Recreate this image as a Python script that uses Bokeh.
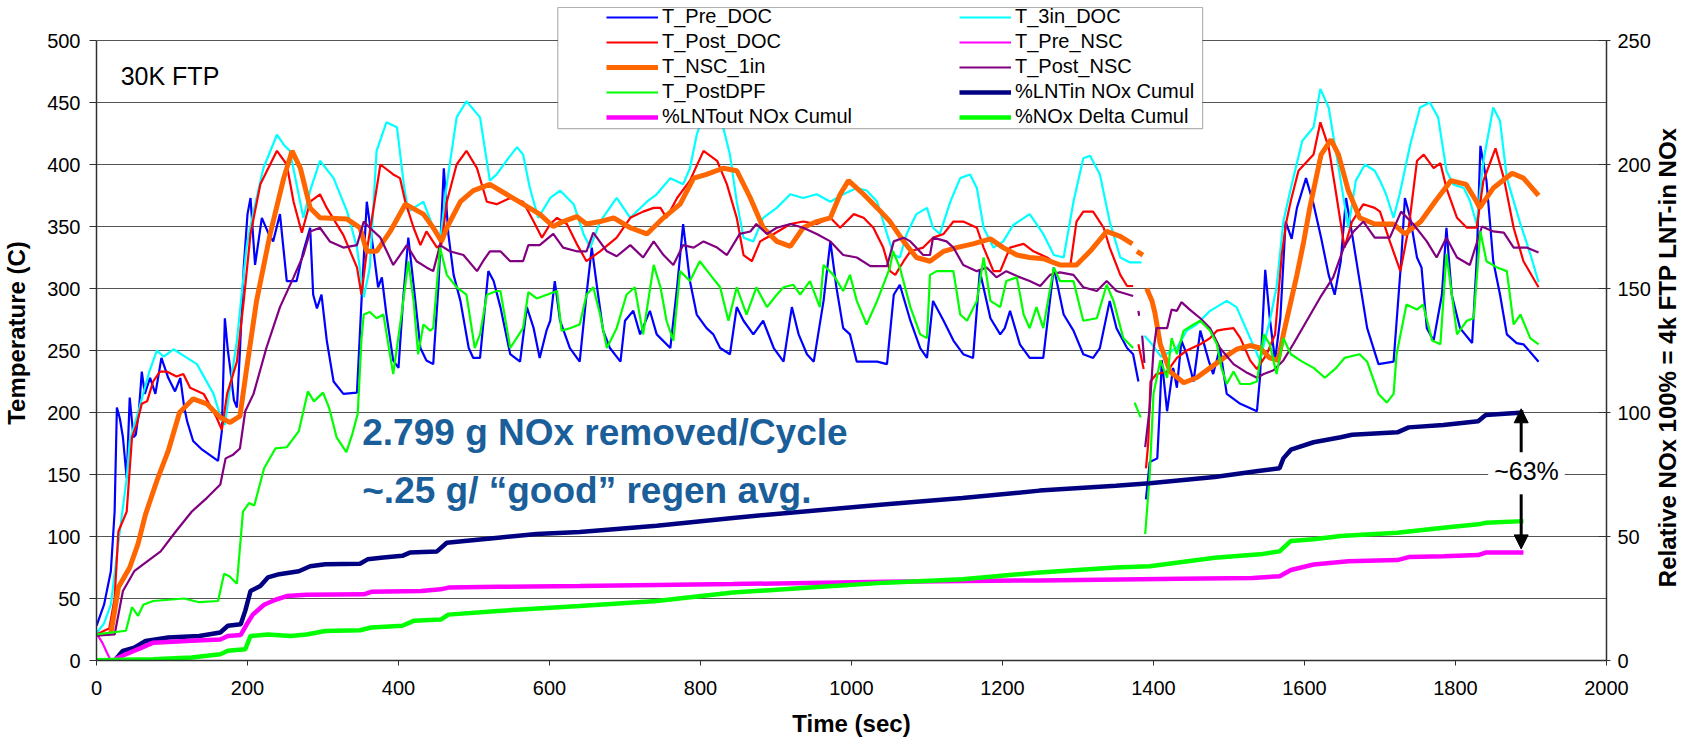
import numpy as np
from bokeh.plotting import figure
from bokeh.models import (Range1d, LinearAxis, FixedTicker, Legend, LegendItem,
                          BoxAnnotation, Label, Arrow, NormalHead)
from bokeh.embed import file_html
from bokeh.resources import INLINE

nan = float("nan")

# ---------------- data (time sec, value) ----------------
t_pre_doc = [(0,28),(10,45),(19,72),(24,120),(27,204),(31,195),(35,180),(40,147),(44,212),(49,180),(52,182),(56,200),(60,233),(64,215),(71,228),(78,215),(86,244),(95,228),(104,217),(111,228),(116,205),(120,193),(128,177),(140,170),(161,161),(166,185),(170,276),(174,250),(177,236),(182,210),(186,204),(190,250),(195,317),(200,360),(204,373),(210,319),(215,340),(219,357),(228,344),(234,338),(243,360),(248,330),(252,306),(265,306),(274,330),(283,349),(287,295),(292,284),(298,295),(305,258),(314,225),(327,215),(345,216),(351,290),(358,370),(367,330),(373,301),(378,309),(384,279),(393,242),(400,236),(406,290),(413,341),(420,303),(429,252),(437,242),(446,239),(453,303),(460,397),(466,344),(473,311),(482,290),(493,252),(499,244),(508,244),(519,314),(526,306),(535,285),(548,247),(561,241),(570,285),(579,268),(587,244),(596,266),(601,274),(607,306),(614,274),(627,252),(640,241),(649,295),(656,333),(663,301),(671,266),(680,252),(694,241),(700,274),(711,282),(720,263),(733,282),(742,263),(760,252),(769,301),(777,352),(786,306),(795,279),(808,268),(817,263),(826,252),(839,247),(848,285),(857,274),(870,263),(883,274),(897,252),(910,241),(921,285),(930,263),(941,247),(950,241),(963,290),(972,338),(980,301),(989,268),(998,263),(1007,241),(1020,241),(1034,241),(1047,239),(1056,295),(1064,303),(1078,274),(1091,252),(1100,244),(1108,290),(1122,274),(1135,258),(1148,247),(1161,244),(1170,314),(1184,276),(1197,263),(1203,268),(1210,282),(1223,255),(1236,244),(1254,244),(1268,317),(1281,279),(1294,266),(1307,247),(1320,244),(1329,252),(1342,290),(1351,268),(1365,252),(1373,247),(1380,225),(1385,nan),(1390,130),(1395,160),(1405,163),(1408,200),(1411,242),(1418,201),(1426,236),(1431,220),(1437,258),(1444,247),(1453,225),(1462,266),(1473,242),(1479,231),(1488,252),(1497,215),(1515,207),(1537,201),(1541,228),(1548,315),(1554,276),(1561,242),(1568,276),(1575,354),(1583,340),(1590,365),(1602,389),(1612,368),(1622,341),(1632,311),(1640,295),(1648,322),(1655,373),(1663,344),(1673,306),(1683,268),(1698,239),(1718,241),(1728,322),(1733,373),(1740,357),(1749,325),(1755,317),(1762,268),(1771,258),(1782,295),(1788,349),(1795,295),(1806,268),(1822,256),(1828,322),(1833,415),(1841,387),(1850,322),(1859,295),(1868,263),(1881,256),(1890,255),(1910,241)]

t_3in_doc = [(0,22),(10,30),(19,45),(30,100),(40,147),(44,177),(55,200),(70,233),(80,250),(89,245),(102,251),(120,244),(133,239),(155,215),(166,193),(170,190),(178,225),(186,258),(199,335),(208,362),(221,397),(239,424),(248,416),(256,411),(265,384),(274,357),(283,379),(296,403),(314,389),(332,362),(345,333),(354,293),(362,317),(371,411),(384,434),(398,430),(407,384),(413,362),(433,370),(446,349),(455,338),(464,384),(477,438),(490,451),(508,438),(521,387),(530,392),(543,403),(557,414),(565,408),(574,381),(585,357),(601,373),(614,379),(632,368),(645,344),(654,333),(667,354),(689,373),(707,357),(729,370),(742,376),(760,389),(777,384),(786,397),(795,424),(804,440),(813,455),(822,445),(830,430),(839,408),(848,370),(857,341),(870,338),(883,357),(901,365),(919,376),(936,373),(954,376),(972,370),(989,376),(1007,381),(1020,379),(1034,370),(1047,344),(1056,327),(1064,325),(1073,344),(1086,360),(1100,365),(1108,349),(1117,344),(1131,370),(1144,389),(1157,392),(1166,381),(1175,349),(1188,333),(1201,338),(1214,351),(1236,360),(1254,344),(1268,327),(1281,325),(1294,370),(1307,405),(1316,407),(1329,392),(1342,354),(1356,325),(1369,321),(1384,321),(1386,nan),(1388,262),(1398,255),(1410,245),(1431,252),(1444,266),(1457,271),(1475,282),(1497,290),(1510,285),(1528,260),(1541,242),(1554,274),(1563,301),(1572,354),(1582,381),(1597,419),(1612,430),(1621,461),(1632,446),(1648,387),(1658,349),(1668,387),(1680,400),(1693,395),(1700,387),(1708,376),(1718,357),(1726,376),(1740,416),(1753,446),(1766,450),(1777,438),(1788,395),(1797,384),(1811,381),(1819,371),(1828,352),(1837,403),(1850,446),(1859,435),(1868,389),(1886,352),(1899,328),(1910,305)]

t_post_doc = [(0,21),(17,26),(24,50),(29,104),(40,120),(47,180),(53,190),(60,207),(67,209),(75,225),(84,233),(93,233),(106,229),(115,231),(124,220),(142,215),(159,196),(166,186),(173,215),(186,241),(195,290),(204,344),(217,384),(239,411),(252,400),(261,370),(272,345),(283,370),(296,376),(305,365),(327,343),(345,317),(351,295),(358,330),(376,400),(393,392),(402,389),(409,370),(420,349),(429,335),(437,346),(451,333),(457,336),(464,370),(477,400),(490,411),(504,397),(517,370),(530,368),(548,373),(565,370),(579,354),(590,341),(601,352),(610,357),(623,352),(636,336),(649,322),(667,330),(689,341),(707,357),(724,362),(738,365),(747,365),(755,357),(769,373),(786,387),(804,411),(822,403),(835,384),(848,357),(857,327),(868,322),(879,338),(897,344),(919,352),(936,354),(954,352),(972,357),(985,349),(1003,360),(1016,357),(1029,349),(1042,333),(1051,314),(1058,311),(1069,322),(1078,330),(1095,333),(1108,341),(1122,344),(1135,354),(1148,354),(1166,349),(1175,333),(1188,314),(1197,314),(1210,333),(1228,336),(1241,330),(1259,325),(1272,319),(1290,319),(1298,354),(1307,362),(1320,362),(1334,349),(1342,333),(1356,311),(1365,302),(1373,302),(1376,nan),(1380,255),(1387,235),(1388,nan),(1390,155),(1393,175),(1396,225),(1404,231),(1418,233),(1431,244),(1444,250),(1462,255),(1475,260),(1484,266),(1493,267),(1506,268),(1515,260),(1528,242),(1537,235),(1550,247),(1561,263),(1570,328),(1576,354),(1582,371),(1592,395),(1612,408),(1621,434),(1632,414),(1642,376),(1653,333),(1663,354),(1678,368),(1693,365),(1700,362),(1713,338),(1727,314),(1738,349),(1749,403),(1758,408),(1771,397),(1780,401),(1788,381),(1802,357),(1815,349),(1828,349),(1837,387),(1853,413),(1864,389),(1877,349),(1890,322),(1910,301)]

t_pre_nsc = [(0,22),(8,14),(14,6),(19,0)]

t_nsc_1in = [(19,22),(24,40),(29,59),(44,75),(55,94),(65,118),(80,145),(95,169),(110,200),(128,211),(146,207),(164,196),(177,192),(190,197),(199,236),(212,290),(230,344),(248,389),(259,411),(270,397),(283,365),(296,357),(332,356),(349,349),(358,330),(371,330),(389,346),(409,368),(433,360),(446,349),(457,338),(464,349),(482,370),(499,379),(521,384),(543,376),(565,368),(587,360),(605,350),(618,354),(636,358),(649,352),(667,354),(685,357),(707,349),(729,344),(751,357),(773,368),(791,389),(808,392),(830,397),(848,395),(866,373),(883,349),(901,338),(919,334),(936,349),(954,354),(972,357),(985,376),(996,387),(1016,376),(1034,365),(1051,354),(1069,338),(1086,325),(1104,322),(1122,330),(1139,333),(1161,336),(1184,340),(1201,333),(1219,327),(1236,325),(1254,324),(1276,319),(1298,319),(1316,330),(1338,346),(1356,342),(1372,336),(1375,nan),(1378,330),(1386,327),(1388,nan),(1391,300),(1398,290),(1402,280),(1409,255),(1422,233),(1440,224),(1457,228),(1475,236),(1493,244),(1510,251),(1528,254),(1541,252),(1554,244),(1565,242),(1572,263),(1581,287),(1590,311),(1599,338),(1607,365),(1622,408),(1635,420),(1645,408),(1658,379),(1673,357),(1693,352),(1718,352),(1733,344),(1754,354),(1774,371),(1794,387),(1814,384),(1827,371),(1832,365),(1850,381),(1875,393),(1890,389),(1910,375)]

t_post_nsc = [(0,20),(24,21),(35,56),(50,72),(65,79),(85,88),(105,104),(126,120),(146,131),(164,142),(171,163),(181,166),(190,171),(197,201),(208,215),(225,252),(243,285),(261,309),(274,327),(283,346),(296,349),(309,338),(327,333),(345,335),(354,354),(362,349),(376,341),(393,319),(402,327),(411,335),(424,322),(437,317),(446,314),(455,335),(468,330),(486,327),(504,314),(512,322),(521,330),(535,330),(548,322),(565,322),(572,335),(587,335),(605,344),(618,333),(636,330),(649,330),(658,345),(676,330),(689,326),(707,335),(724,325),(738,338),(751,327),(764,319),(777,335),(791,333),(804,338),(822,333),(835,327),(852,344),(866,346),(874,352),(888,344),(901,349),(919,352),(936,349),(954,344),(972,338),(989,327),(1007,325),(1025,318),(1047,318),(1056,338),(1069,341),(1078,338),(1095,327),(1104,327),(1108,341),(1126,338),(1135,333),(1148,319),(1166,314),(1179,317),(1192,309),(1205,314),(1219,310),(1236,306),(1250,302),(1263,311),(1276,313),(1294,311),(1307,301),(1325,298),(1338,306),(1351,298),(1373,294),(1376,nan),(1380,282),(1381,278),(1382,nan),(1385,262),(1388,240),(1389,nan),(1389,172),(1395,204),(1400,250),(1404,268),(1418,268),(1424,283),(1431,282),(1437,289),(1448,283),(1462,276),(1475,268),(1488,252),(1506,239),(1524,232),(1537,228),(1546,231),(1559,234),(1572,242),(1585,255),(1603,274),(1621,293),(1638,309),(1652,333),(1665,346),(1678,354),(1693,341),(1713,341),(1728,362),(1744,352),(1762,338),(1775,325),(1788,341),(1802,325),(1819,319),(1835,350),(1850,346),(1864,345),(1877,333),(1894,333),(1910,329)]

t_post_dpf = [(0,21),(39,24),(47,43),(55,36),(62,45),(75,48),(116,50),(136,47),(161,48),(169,70),(176,68),(186,62),(194,120),(202,127),(209,125),(222,155),(237,171),(252,172),(268,185),(280,217),(288,209),(300,216),(308,204),(318,180),(331,168),(339,183),(346,199),(351,260),(354,279),(362,281),(371,276),(380,279),(393,231),(404,279),(413,322),(420,290),(426,247),(433,271),(442,266),(446,268),(455,333),(464,311),(477,301),(490,295),(501,252),(508,263),(517,295),(530,298),(535,298),(548,252),(565,268),(572,297),(583,292),(610,298),(616,266),(627,268),(640,271),(649,295),(658,301),(667,279),(676,252),(689,268),(702,295),(713,301),(724,263),(738,319),(747,301),(755,274),(764,258),(773,314),(786,306),(799,322),(813,311),(826,301),(837,274),(848,301),(861,279),(874,301),(888,285),(901,295),(910,301),(923,303),(932,295),(945,306),(958,285),(963,319),(976,311),(989,298),(998,311),(1007,290),(1020,271),(1034,290),(1051,317),(1055,330),(1064,317),(1078,285),(1091,263),(1100,260),(1104,311),(1113,314),(1135,314),(1144,279),(1153,274),(1166,290),(1175,325),(1184,290),(1197,285),(1205,306),(1219,309),(1228,279),(1236,268),(1245,285),(1254,268),(1268,317),(1276,306),(1294,306),(1307,274),(1325,276),(1338,303),(1347,290),(1360,260),(1373,252),(1374,nan),(1375,208),(1383,196),(1385,nan),(1389,102),(1395,150),(1400,215),(1409,242),(1418,228),(1424,260),(1431,247),(1440,266),(1453,271),(1462,274),(1475,266),(1484,255),(1490,236),(1497,223),(1506,233),(1515,223),(1528,223),(1537,225),(1546,263),(1554,255),(1563,231),(1572,260),(1582,247),(1597,241),(1612,236),(1627,228),(1642,236),(1653,244),(1673,247),(1683,241),(1698,215),(1709,208),(1718,215),(1722,247),(1735,287),(1749,283),(1757,287),(1769,258),(1780,255),(1788,328),(1802,263),(1815,274),(1824,276),(1833,346),(1841,322),(1855,317),(1868,314),(1877,271),(1886,279),(1899,260),(1910,255)]

# cumulative NOx series (right axis, %)
lntin_cumul = [(24,0),(35,3.9),(50,5.2),(65,7.9),(95,9.3),(136,9.9),(164,11.3),(174,14),(191,14.6),(197,20),(204,28),(217,30),(227,33.5),(242,34.8),(268,36),(283,38),(303,38.8),(349,39),(359,40.8),(380,41.5),(405,42.2),(415,43.5),(451,44),(464,47.5),(481,48),(532,49.5),(583,51),(640,51.8),(742,54.3),(843,57.5),(945,60.3),(1046,63),(1147,65.5),(1249,68.5),(1350,70.5),(1395,71.5),(1481,74),(1541,76.5),(1567,77.5),(1572,81.5),(1582,85),(1612,88),(1648,90),(1663,91),(1723,92),(1738,94),(1784,95),(1830,96.5),(1840,99),(1865,99.5),(1890,100)]

lntout_cumul = [(24,0.5),(39,2.5),(60,5.2),(75,7.2),(126,8),(164,8.5),(174,9.9),(191,10.3),(199,14.6),(207,18.5),(222,22.5),(237,24.5),(252,26),(278,26.5),(354,26.7),(364,27.7),(430,28),(456,28.7),(466,29.4),(532,29.7),(640,30),(843,30.8),(1046,31.8),(1249,32.3),(1435,33),(1531,33.3),(1567,34),(1582,36.5),(1612,38.7),(1658,40),(1723,40.5),(1738,41.7),(1784,42),(1830,42.5),(1840,43.5),(1890,43.5)]

nox_delta_cumul = [(0,0.1),(75,0.5),(126,1.2),(164,2.5),(174,3.9),(197,4.5),(204,9.9),(227,10.5),(257,9.9),(278,10.5),(303,11.9),(349,12.2),(364,13.3),(405,14),(420,16),(456,16.5),(466,18.5),(532,20),(640,22),(742,24),(843,27.4),(945,29.4),(1046,31.4),(1147,32.8),(1249,35.5),(1350,37.5),(1395,38),(1481,41.4),(1541,42.8),(1567,44),(1582,48.2),(1612,48.9),(1648,50.2),(1723,51.5),(1784,53.5),(1830,54.9),(1840,55.5),(1890,56.2)]

x_ticks = list(range(0, 2001, 200))
y_ticks = list(range(0, 501, 50))
y2_ticks = list(range(0, 251, 50))

FONT = "Liberation Sans"
RIGHT_TITLE = "Relative NOx 100% = 4k FTP LNT-in NOx"

# frame reaches above the 500 line so that the legend (which overhangs the
# plot area in the original) is not clipped; axes are bounded to 0..500 / 0..250
Y_TOP = 655 / 1.24
Y2_TOP = Y_TOP / 2


def xy(pairs):
    a = np.array(pairs, dtype=float)
    return a[:, 0], a[:, 1]


p = figure(width=1698, height=744, x_range=Range1d(0, 2000), y_range=Range1d(0, Y_TOP),
           output_backend="svg", toolbar_location=None,
           min_border_left=96, min_border_right=92, min_border_top=5, min_border_bottom=84)
p.extra_y_ranges = {"right": Range1d(0, Y2_TOP)}
p.outline_line_color = None
p.background_fill_color = "white"
p.border_fill_color = "white"

# grid
p.xgrid.grid_line_color = None
p.ygrid.grid_line_color = "#555555"
p.ygrid.grid_line_width = 1
p.ygrid.ticker = FixedTicker(ticks=y_ticks)

# axes
p.xaxis.ticker = FixedTicker(ticks=x_ticks)
p.yaxis.ticker = FixedTicker(ticks=y_ticks)
p.yaxis.bounds = (0, 500)
p.xaxis.axis_label = "Time (sec)"
p.yaxis.axis_label = "Temperature (C)"
for ax in [p.xaxis[0], p.yaxis[0]]:
    ax.major_label_text_font = FONT
    ax.major_label_text_font_size = "20px"
    ax.major_label_text_color = "black"
    ax.axis_label_text_font = FONT
    ax.axis_label_text_font_size = "24px"
    ax.axis_label_text_font_style = "bold"
    ax.axis_label_text_color = "black"
    ax.axis_line_color = "#303030"
    ax.axis_line_width = 1.5
    ax.major_tick_line_color = "#303030"
    ax.major_tick_in = 0
    ax.minor_tick_line_color = None
p.xaxis.major_tick_out = 5
p.xaxis.major_label_standoff = 15
p.xaxis.axis_label_standoff = 12
p.yaxis.major_tick_out = 7
p.yaxis.major_label_standoff = 9
p.yaxis.axis_label_standoff = 14

ax2 = LinearAxis(y_range_name="right", ticker=FixedTicker(ticks=y2_ticks), bounds=(0, 250))
ax2.major_label_text_font = FONT
ax2.major_label_text_font_size = "20px"
ax2.major_label_text_color = "black"
ax2.axis_label_text_font = FONT
ax2.axis_label_text_font_size = "24px"
ax2.axis_label_text_font_style = "bold"
ax2.axis_label_text_color = "black"
ax2.axis_label_standoff = 14
ax2.axis_line_color = "#303030"
ax2.axis_line_width = 1.5
ax2.major_tick_line_color = "#303030"
ax2.major_tick_in = 8
ax2.major_tick_out = 4
ax2.minor_tick_line_color = None
ax2.major_label_standoff = 7
props2 = ax2.properties()
if "axis_label_orientation" in props2 and "axis_label_align" in props2:
    # read bottom-to-top, starting from the lower end of the frame
    ax2.axis_label_orientation = np.pi / 2
    ax2.axis_label_align = "start"
    ax2.axis_label = "\u00a0" * 11 + RIGHT_TITLE
else:
    ax2.axis_label = "\u00a0" * 5 + RIGHT_TITLE
p.add_layout(ax2, "right")

# series
series = [
    ("T_Pre_DOC", t_pre_doc, "#0000FF", 2.2, "default"),
    ("T_3in_DOC", t_3in_doc, "#00FFFF", 2.2, "default"),
    ("T_Post_DOC", t_post_doc, "#FF0000", 2.2, "default"),
    ("T_Pre_NSC", t_pre_nsc, "#FF00FF", 2.2, "default"),
    ("T_NSC_1in", t_nsc_1in, "#FF6600", 5, "default"),
    ("T_Post_NSC", t_post_nsc, "#800080", 2.2, "default"),
    ("T_PostDPF", t_post_dpf, "#00FF00", 2.2, "default"),
    ("%LNTin NOx Cumul", lntin_cumul, "#000080", 4.5, "right"),
    ("%LNTout NOx Cumul", lntout_cumul, "#FF00FF", 4.5, "right"),
    ("%NOx Delta Cumul", nox_delta_cumul, "#00FF00", 4.5, "right"),
]
rend = {}
for name, pairs, color, lw, yr in series:
    x, y = xy(pairs)
    rend[name] = p.line(x, y, line_color=color, line_width=lw, y_range_name=yr)

# legend frame (box) and two legend columns
p.add_layout(BoxAnnotation(left=611, right=1465, top=526.6, bottom=429,
                           fill_color="white", fill_alpha=1.0,
                           line_color="black", line_width=1.2))

col1 = ["T_Pre_DOC", "T_Post_DOC", "T_NSC_1in", "T_PostDPF", "%LNTout NOx Cumul"]
col2 = ["T_3in_DOC", "T_Pre_NSC", "T_Post_NSC", "%LNTin NOx Cumul", "%NOx Delta Cumul"]
for names, loc in [(col1, (510, 532)), (col2, (863, 532))]:
    lg = Legend(items=[LegendItem(label=n, renderers=[rend[n]]) for n in names],
                location=loc, orientation="vertical",
                border_line_alpha=0, background_fill_alpha=0,
                padding=0, margin=0, spacing=2,
                glyph_width=52, glyph_height=22, label_height=22, label_standoff=4,
                label_text_font=FONT, label_text_font_size="20px",
                label_text_color="black")
    p.add_layout(lg)

# annotations
p.add_layout(Label(x=32, y=471, text="30K FTP", text_font=FONT, text_font_size="25px",
                   text_baseline="middle", text_color="black"))
p.add_layout(Label(x=352, y=184, text="2.799 g NOx removed/Cycle", text_font=FONT,
                   text_font_size="37px", text_font_style="bold", text_color="#1A5E9A",
                   text_baseline="middle"))
p.add_layout(Label(x=352, y=137, text="~.25 g/ \u201cgood\u201d regen avg.", text_font=FONT,
                   text_font_size="37px", text_font_style="bold", text_color="#1A5E9A",
                   text_baseline="middle"))
p.add_layout(Label(x=1894, y=76.4, y_range_name="right", text="~63%", text_font=FONT,
                   text_font_size="25px", text_align="center", text_baseline="middle",
                   text_color="black",
                   background_fill_color="white", background_fill_alpha=1.0, padding=6))
p.add_layout(Arrow(end=NormalHead(size=14, fill_color="black", line_color="black"),
                   x_start=1887, y_start=84, x_end=1887, y_end=101.5, y_range_name="right",
                   line_width=3, line_color="black"))
p.add_layout(Arrow(end=NormalHead(size=14, fill_color="black", line_color="black"),
                   x_start=1887, y_start=67, x_end=1887, y_end=45, y_range_name="right",
                   line_width=3, line_color="black"))

open("out.html", "w").write(file_html(p, INLINE))
